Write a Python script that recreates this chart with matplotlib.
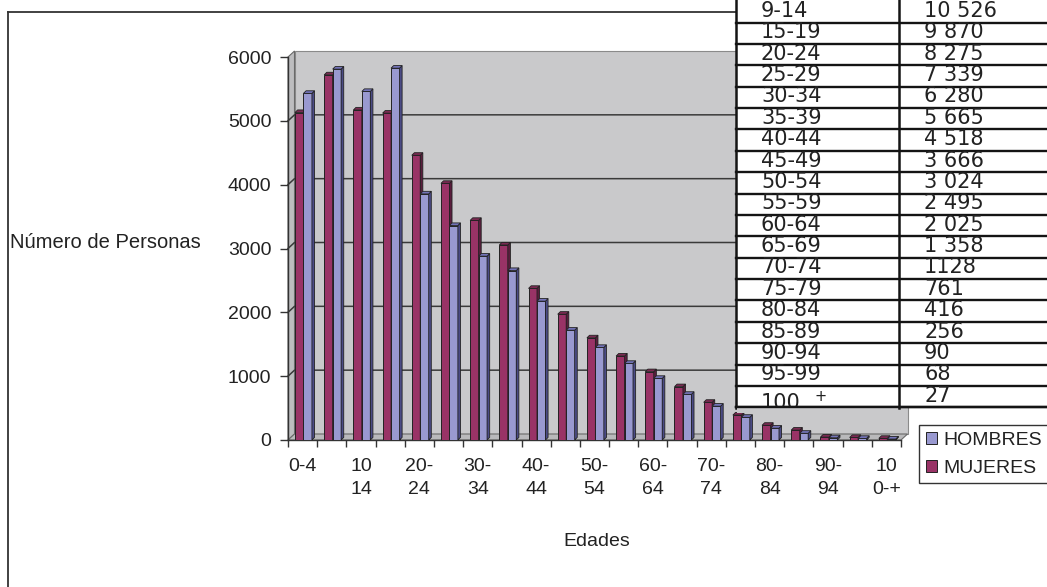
import numpy as np
import matplotlib
matplotlib.use('Agg')
import matplotlib.pyplot as plt
from matplotlib.patches import Polygon, Rectangle

plt.rcParams['font.family'] = ['Liberation Sans', 'DejaVu Sans']

W, H = 1047, 587

# age groups (21 bins) and series values
edades = ['0-4', '5-9', '10-14', '15-19', '20-24', '25-29', '30-34', '35-39',
          '40-44', '45-49', '50-54', '55-59', '60-64', '65-69', '70-74',
          '75-79', '80-84', '85-89', '90-94', '95-99', '100-+']
mujeres = [5130, 5720, 5170, 5120, 4460, 4020, 3440, 3055, 2375, 1970, 1600,
           1315, 1070, 835, 590, 390, 230, 155, 45, 40, 25]
hombres = [5430, 5810, 5460, 5825, 3855, 3360, 2880, 2655, 2175, 1720, 1450,
           1200, 965, 715, 530, 355, 185, 105, 35, 25, 15]
# every other category gets a (wrapped) label, as in the original
xlabels = ['0-4', '10\n14', '20-\n24', '30-\n34', '40-\n44', '50-\n54',
           '60-\n64', '70-\n74', '80-\n84', '90-\n94', '10\n0-+']
yticks = [0, 1000, 2000, 3000, 4000, 5000, 6000]

# table pasted over the chart
tab_grupos = ['9-14', '15-19', '20-24', '25-29', '30-34', '35-39', '40-44',
              '45-49', '50-54', '55-59', '60-64', '65-69', '70-74', '75-79',
              '80-84', '85-89', '90-94', '95-99', '100']
tab_valores = ['10 526', '9 870', '8 275', '7 339', '6 280', '5 665', '4 518',
               '3 666', '3 024', '2 495', '2 025', '1 358', '1128', '761',
               '416', '256', '90', '68', '27']

C_M = '#993366'; C_M_SIDE = '#5a1d3d'; C_M_TOP = '#7a2a52'
C_H = '#9999d0'; C_H_SIDE = '#4b4b86'; C_H_TOP = '#7373b8'
C_WALL = '#c9c9cb'; C_EDGE = '#222222'
FS = 14

fig = plt.figure(figsize=(W / 100, H / 100), dpi=100)

# ---- main (pseudo 3D) column chart ----
ax = fig.add_axes([288 / W, (H - 440) / H, (901 - 288) / W, (440 - 57) / H])
ax.set_xlim(0, len(edades))
ax.set_ylim(0, 6000)
ax.patch.set_alpha(0)

px_x = len(edades) / (901 - 288)   # category units per pixel
px_y = 6000 / (440 - 57)           # value units per pixel
dx, dy = 6.5 * px_x, 6 * px_y      # wall depth
n = len(edades)

ax.add_patch(Polygon([(dx, dy), (n + dx, dy), (n + dx, 6000 + dy), (dx, 6000 + dy)],
                     closed=True, fc=C_WALL, ec='#8a8a8a', lw=0.8, clip_on=False, zorder=0))
ax.add_patch(Polygon([(0, 0), (dx, dy), (dx, 6000 + dy), (0, 6000)],
                     closed=True, fc='#bdbdbf', ec='#6a6a6a', lw=0.8, clip_on=False, zorder=0.5))
ax.add_patch(Polygon([(0, 0), (n, 0), (n + dx, dy), (dx, dy)],
                     closed=True, fc='#b9b9bb', ec='#6a6a6a', lw=0.8, clip_on=False, zorder=0.5))
for v in yticks[1:-1]:
    ax.plot([0, dx, n + dx], [v, v + dy, v + dy], color='#3a3a3a', lw=1.1,
            clip_on=False, zorder=1)

x = np.arange(n)
bw = 0.29
bdx, bdy = 2.6 * px_x, 2.6 * px_y


def bars3d(xc, vals, c, cside, ctop, z, label):
    b = ax.bar(xc, vals, width=bw, color=c, edgecolor=C_EDGE, lw=0.7,
               zorder=z, label=label)
    for xi, v in zip(xc, vals):
        r, l = xi + bw / 2, xi - bw / 2
        ax.add_patch(Polygon([(r, 0), (r + bdx, bdy), (r + bdx, v + bdy), (r, v)],
                             closed=True, fc=cside, ec=C_EDGE, lw=0.6,
                             clip_on=False, zorder=z))
        ax.add_patch(Polygon([(l, v), (r, v), (r + bdx, v + bdy), (l + bdx, v + bdy)],
                             closed=True, fc=ctop, ec=C_EDGE, lw=0.6,
                             clip_on=False, zorder=z))
    return b


bm = bars3d(x + 0.385, mujeres, C_M, C_M_SIDE, C_M_TOP, 3, 'MUJERES')
bh = bars3d(x + 0.675, hombres, C_H, C_H_SIDE, C_H_TOP, 4, 'HOMBRES')

for s in ['top', 'right']:
    ax.spines[s].set_visible(False)
for s in ['left', 'bottom']:
    ax.spines[s].set_color('#333333')
    ax.spines[s].set_linewidth(1.0)

ax.set_yticks(yticks)
ax.tick_params(axis='y', direction='out', length=6, width=1, color='#333333',
               labelsize=FS, pad=6, labelcolor='#222222')
ax.set_xticks(np.arange(n + 1))
ax.set_xticklabels([])
ax.set_xticks(np.arange(0, n, 2) + 0.5, xlabels, minor=True)
ax.tick_params(axis='x', which='major', direction='out', length=5, width=1,
               color='#333333')
ax.tick_params(axis='x', which='minor', length=0, labelsize=FS, pad=13,
               labelcolor='#222222')
for t in ax.get_xticklabels(minor=True):
    t.set_linespacing(1.45)

leg = ax.legend(handles=[bh, bm], labels=['HOMBRES', 'MUJERES'],
                loc='upper left', bbox_to_anchor=(919 / W, 1 - 425 / H),
                bbox_transform=fig.transFigure, fontsize=FS, frameon=True,
                fancybox=False, edgecolor='#333333', framealpha=1,
                handlelength=0.6, handleheight=0.6, handletextpad=0.3,
                labelspacing=0.55, borderpad=0.35, borderaxespad=0)
leg.get_frame().set_linewidth(1.0)
for t in leg.get_texts():
    t.set_color('#222222')

# ---- overlay in pixel coordinates: frame, titles, table ----
ov = fig.add_axes([0, 0, 1, 1], zorder=5)
ov.set_xlim(0, W)
ov.set_ylim(H, 0)
ov.axis('off')
ov.patch.set_alpha(0)

ov.plot([8, 8], [12, H + 5], color='#333333', lw=1.3)
ov.plot([8, 736], [12, 12], color='#333333', lw=1.3)

ov.text(10, 243, 'Número de Personas', fontsize=FS + 0.5, ha='left', va='center',
        color='#222222')
ov.text(597, 542, 'Edades', fontsize=FS, ha='center', va='center', color='#222222')

row_h = 21.37
t_bot = 407.3
t_top = t_bot - len(tab_grupos) * row_h
TFS = 15
ov.add_patch(Rectangle((736, -5), W - 736 + 10, t_bot + 5, fc='white', ec='none'))
for k in range(1, len(tab_grupos) + 1):
    yk = t_top + k * row_h
    ov.plot([736, W + 5], [yk, yk], color='#141414', lw=1.7)
for xk in (736, 899):
    ov.plot([xk, xk], [-2, t_bot + 1], color='#141414', lw=1.8)
for k, (g, v) in enumerate(zip(tab_grupos, tab_valores)):
    yc = t_top + (k + 0.5) * row_h - 1
    if g == '100':
        ov.text(761, yc + 7.5, g, family='DejaVu Sans', fontsize=TFS,
                ha='left', va='center', color='#222222', zorder=1)
        ov.text(814, yc + 0.5, '+', family='DejaVu Sans', fontsize=10.5,
                ha='left', va='center', color='#222222')
    else:
        ov.text(761, yc, g, family='DejaVu Sans', fontsize=TFS,
                ha='left', va='center', color='#222222')
    ov.text(924, yc, v, family='DejaVu Sans', fontsize=TFS, ha='left', va='center',
            color='#222222')
# cover the clipped part of '100' below the table and redraw its bottom line
ov.add_patch(Rectangle((737, t_bot), 161, 6, fc=C_WALL, ec='none', zorder=2))
ov.plot([736, W + 5], [t_bot, t_bot], color='#141414', lw=1.7, zorder=3)

fig.savefig('out.png', dpi=100)
